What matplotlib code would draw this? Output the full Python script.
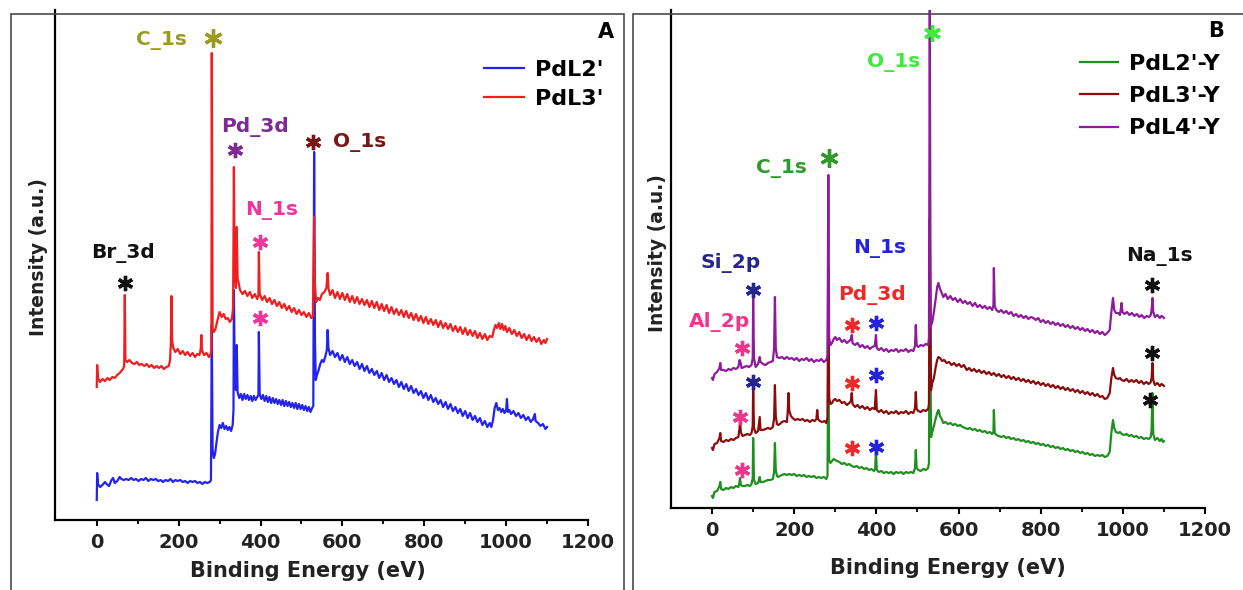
import matplotlib
matplotlib.use("Agg")
import matplotlib.pyplot as plt
from matplotlib.patches import Rectangle

# ---------------------------------------------------------------- data
# XPS survey spectra: (binding energy [eV], intensity [a.u.]) pairs

pdl2 = [(0,20),(1,47),(3,36),(8,33),(14,35),(20,38),(24,36),(30,34),(36,40),(40,42),(44,37),(50,39),
        (56,43),(60,41),(66,40),(72,41),(78,40),(84,42),(90,40),(96,41),(102,39),(108,41),(114,40),
        (120,42),(126,39),(132,41),(138,40),(144,41),(150,39),(156,40),(162,38),(168,40),(174,39),
        (180,41),(186,38),(192,40),(198,39),(204,40),(210,38),(216,39),(222,37),(228,39),(234,38),
        (240,39),(246,37),(252,38),(258,36),(264,38),(270,37),(276,38),(279,40),(281,195),(283,70),
        (286,62),(289,66),(292,76),(296,88),(300,95),(304,92),(308,97),(312,91),(316,94),(320,90),
        (324,93),(328,89),(332,95),(334,110),(335,230),(337,150),(340,130),(342,175),(344,128),
        (348,122),(352,126),(356,120),(360,126),(364,121),(368,125),(372,120),(376,124),(380,119),
        (384,124),(388,120),(392,123),(395,125),(396,188),(398,126),(402,121),(406,125),(410,119),
        (414,124),(418,118),(422,123),(426,117),(430,122),(434,117),(438,121),(442,116),(446,120),
        (450,115),(454,120),(458,114),(462,119),(466,114),(470,118),(474,113),(478,117),(482,112),
        (486,117),(490,111),(494,116),(498,111),(502,115),(506,110),(510,114),(514,109),(518,113),
        (522,108),(526,112),(529,114),(531,368),(533,180),(535,140),(538,145),(542,150),(546,156),
        (550,160),(554,158),(558,163),(562,170),(564,190),(566,172),(570,165),(576,169),(582,163),
        (588,167),(594,160),(600,165),(606,158),(612,163),(618,156),(624,160),(630,154),(636,158),
        (642,151),(648,156),(654,149),(660,154),(666,147),(672,151),(678,145),(684,149),(690,142),
        (696,147),(702,140),(708,145),(714,138),(720,142),(726,136),(732,140),(738,133),(744,138),
        (750,131),(756,136),(762,129),(768,134),(774,127),(780,131),(786,125),(792,129),(798,122),
        (804,127),(810,120),(816,125),(822,118),(828,122),(834,116),(840,120),(846,113),(852,118),
        (858,111),(864,116),(870,109),(876,113),(882,107),(888,111),(894,104),(900,109),(906,102),
        (912,107),(918,100),(924,104),(930,98),(936,102),(942,95),(948,99),(954,93),(960,97),
        (964,93),(968,100),(972,112),(976,117),(980,110),(984,112),(988,108),(992,111),(996,107),
        (1000,110),(1002,121),(1004,108),(1008,110),(1012,106),(1018,109),(1024,104),(1030,107),
        (1036,102),(1042,105),(1048,100),(1054,103),(1060,98),(1066,101),(1070,106),(1072,99),
        (1078,97),(1084,94),(1090,96),(1096,91),(1100,93)]

pdl3 = [(0,133),(1,155),(3,142),(8,138),(14,141),(20,139),(26,142),(32,140),(38,143),(44,142),
        (50,145),(56,147),(60,149),(64,151),(67,154),(68.5,225),(70,160),(74,158),(80,160),(86,157),
        (92,156),(98,158),(104,155),(110,156),(116,154),(122,156),(128,153),(134,155),(140,152),
        (146,154),(152,152),(158,154),(164,151),(170,153),(176,154),(179,160),(181,176),(182.5,224),
        (184,180),(187,172),(192,168),(198,171),(204,166),(210,169),(216,165),(222,168),(228,164),
        (234,167),(240,163),(246,166),(251,165),(254,171),(255.5,185),(257,170),(262,165),(268,167),
        (274,163),(278,166),(280,170),(281,467),(283,192),(286,188),(290,191),(295,200),(300,208),
        (305,203),(310,206),(315,201),(320,202),(325,198),(330,201),(333,212),(335,353),(337,250),
        (340,232),(342,293),(344,242),(350,230),(356,226),(362,229),(368,224),(374,228),(380,222),
        (386,226),(392,221),(395,225),(396,268),(398,226),(404,220),(410,224),(416,218),(422,222),
        (428,216),(434,220),(440,214),(446,218),(452,212),(458,216),(464,210),(470,214),(476,208),
        (482,212),(488,206),(494,210),(500,205),(506,208),(512,203),(518,207),(524,202),(528,204),
        (531,303),(533,235),(536,218),(540,222),(545,220),(550,226),(556,228),(561,232),(564,247),
        (566,232),(570,225),(576,230),(582,222),(588,228),(594,221),(600,227),(606,220),(612,226),
        (618,218),(624,224),(630,217),(636,223),(642,216),(648,221),(654,215),(660,220),(666,213),
        (672,219),(678,212),(684,218),(690,210),(696,216),(702,209),(708,215),(714,207),(720,213),
        (726,206),(732,211),(738,205),(744,210),(750,203),(756,209),(762,202),(768,207),(774,200),
        (780,206),(786,199),(792,204),(798,197),(804,203),(810,196),(816,201),(822,195),(828,200),
        (834,193),(840,199),(846,192),(852,197),(858,191),(864,196),(870,189),(876,194),(882,188),
        (888,193),(894,186),(900,192),(906,185),(912,190),(918,184),(924,189),(930,182),(936,187),
        (942,181),(948,186),(954,180),(960,184),(966,183),(970,190),(974,195),(978,192),(982,197),
        (986,191),(990,196),(994,190),(998,194),(1002,188),(1008,192),(1014,186),(1020,190),
        (1026,184),(1032,188),(1038,182),(1044,186),(1050,180),(1056,185),(1062,179),(1068,183),
        (1074,178),(1080,182),(1086,176),(1092,180),(1096,177),(1100,181)]

pdl2_y = [(0,12),(2,10),(6,16),(12,17),(18,22),(20,26),(22,19),(28,18),(34,20),(40,19),(46,21),
          (52,20),(58,22),(64,21),(67,26),(68,30),(70,23),(74,22),(80,22),(86,23),(92,22),(96,24),
          (99,30),(100,70),(102,28),(106,24),(112,25),(116,31),(118,26),(124,26),(130,27),(136,28),
          (142,28),(148,29),(151,36),(153,65),(155,38),(158,32),(161,31),(165,32),(170,33),(176,34),
          (182,33),(188,34),(194,33),(200,34),(206,32),(212,33),(218,32),(224,33),(230,31),(236,32),
          (242,31),(248,32),(254,30),(260,31),(266,30),(272,31),(278,29),(281,32),(283,160),(285,48),
          (288,45),(292,47),(296,49),(300,48),(304,47),(310,46),(316,44),(322,45),(328,43),(334,44),
          (340,42),(346,41),(352,42),(358,40),(364,41),(370,39),(376,40),(382,38),(388,39),(394,37),
          (397,39),(399,58),(401,38),(406,36),(412,37),(418,35),(424,36),(430,35),(436,36),(442,34),
          (448,36),(454,35),(460,36),(466,34),(472,36),(478,35),(484,36),(490,35),(494,40),(496,58),
          (498,40),(502,38),(508,37),(514,39),(520,38),(526,40),(528,45),(530,250),(533,71),(536,76),
          (540,82),(544,89),(548,95),(551,98),(555,92),(560,88),(563,85),(568,86),(574,84),(580,85),
          (586,83),(592,84),(598,82),(604,83),(610,81),(616,80),(622,79),(628,80),(634,78),(640,79),
          (646,77),(652,78),(658,76),(664,77),(670,75),(676,76),(682,74),(685,76),(686,98),(688,75),
          (692,73),(698,72),(704,71),(710,72),(716,70),(722,71),(728,69),(734,70),(740,68),(746,69),
          (752,67),(758,68),(764,66),(770,67),(776,65),(782,66),(788,64),(794,65),(800,63),(806,64),
          (812,62),(818,63),(824,61),(830,62),(836,60),(842,61),(848,59),(854,60),(860,58),(866,59),
          (872,57),(878,58),(884,56),(890,57),(896,55),(902,56),(908,54),(914,55),(920,53),(926,54),
          (932,52),(938,53),(944,52),(950,53),(956,51),(962,52),(968,56),(972,75),(976,88),(979,80),
          (983,76),(989,75),(993,76),(997,74),(1003,73),(1009,74),(1015,72),(1021,73),(1027,71),
          (1033,72),(1039,70),(1045,71),(1051,69),(1057,70),(1063,69),(1068,71),(1070,78),(1072,115),
          (1074,74),(1078,68),(1084,70),(1090,67),(1094,69),(1098,66),(1100,67)]

pdl3_y = [(0,60),(2,58),(6,64),(12,65),(18,70),(20,75),(22,67),(28,66),(34,68),(40,67),(46,69),
          (52,68),(58,70),(64,71),(67,80),(68,88),(70,76),(74,72),(80,73),(86,74),(92,73),(96,75),
          (99,82),(100,121),(102,80),(106,75),(112,77),(116,91),(118,78),(124,78),(130,79),(136,80),
          (142,79),(148,81),(151,90),(153,123),(155,92),(158,84),(161,83),(165,84),(170,86),(176,87),
          (182,86),(184,95),(186,115),(188,97),(192,92),(196,90),(202,88),(208,89),(214,88),(220,89),
          (226,87),(232,88),(238,86),(244,88),(250,87),(254,89),(256,98),(258,89),(262,87),(268,86),
          (274,87),(278,85),(281,90),(283,240),(285,110),(288,104),(292,105),(296,108),(300,109),
          (304,107),(310,108),(316,105),(322,106),(328,103),(334,105),(338,107),(340,115),(342,104),
          (348,101),(354,103),(360,100),(366,102),(372,99),(378,101),(384,98),(390,100),(396,99),
          (399,118),(401,98),(406,96),(412,98),(418,95),(424,97),(430,94),(436,96),(442,95),(448,97),
          (454,94),(460,96),(466,95),(472,97),(478,94),(484,96),(490,95),(494,100),(496,116),(498,99),
          (502,97),(508,96),(514,98),(520,97),(526,99),(528,104),(530,290),(533,118),(536,125),
          (540,130),(544,140),(548,148),(551,151),(555,150),(560,147),(565,148),(571,145),(577,146),
          (583,143),(589,145),(595,142),(601,144),(607,141),(613,143),(620,138),(626,140),(632,137),
          (638,139),(644,136),(650,138),(656,135),(662,137),(668,134),(674,136),(680,133),(686,135),
          (692,132),(698,134),(704,131),(710,133),(716,130),(722,132),(728,129),(734,131),(740,128),
          (746,130),(752,127),(758,129),(764,126),(770,128),(776,125),(782,127),(788,124),(794,126),
          (800,123),(806,125),(812,122),(818,124),(824,121),(830,123),(836,120),(842,122),(848,119),
          (854,121),(860,118),(866,120),(872,117),(878,119),(884,116),(890,118),(896,115),(902,117),
          (908,114),(914,116),(920,113),(926,115),(932,112),(938,114),(944,111),(950,112),(956,109),
          (962,110),(968,115),(972,130),(976,140),(979,133),(983,130),(989,129),(993,130),(997,128),
          (1003,127),(1009,129),(1015,126),(1021,128),(1027,126),(1033,128),(1039,125),(1045,127),
          (1051,124),(1057,126),(1063,124),(1068,126),(1070,130),(1072,145),(1074,128),(1078,123),
          (1084,125),(1090,122),(1094,124),(1098,123),(1100,122)]

pdl4_y = [(0,130),(2,128),(6,134),(12,136),(18,140),(20,145),(22,138),(28,138),(34,137),(40,139),
          (46,138),(52,140),(58,139),(64,141),(67,148),(69,146),(72,140),(78,141),(84,142),(90,141),
          (96,143),(99,150),(100,210),(102,150),(106,141),(112,144),(116,151),(118,146),(124,144),
          (130,143),(136,145),(142,146),(148,147),(151,160),(153,211),(155,160),(158,151),(164,150),
          (170,151),(176,149),(182,151),(188,149),(194,150),(200,148),(206,150),(212,147),(218,149),
          (224,148),(230,150),(236,147),(242,149),(248,146),(254,148),(260,147),(266,149),(272,146),
          (278,148),(281,152),(283,333),(285,170),(288,163),(292,165),(296,169),(300,171),(304,168),
          (310,170),(316,166),(322,168),(328,165),(334,167),(338,169),(340,173),(342,165),(348,163),
          (354,165),(360,161),(366,163),(372,160),(378,162),(384,159),(390,161),(396,162),(399,173),
          (401,160),(406,158),(412,160),(418,157),(424,159),(430,156),(436,158),(442,157),(448,159),
          (454,156),(460,158),(466,157),(472,159),(478,156),(484,158),(490,157),(494,162),(496,183),
          (498,163),(502,161),(508,163),(514,162),(520,164),(526,163),(528,170),(530,505),(532,181),
          (536,186),(540,196),(544,208),(548,221),(551,225),(555,219),(560,214),(563,211),(568,214),
          (574,209),(580,212),(586,208),(592,210),(598,206),(604,209),(610,205),(616,207),(622,204),
          (628,206),(634,202),(640,205),(646,201),(652,203),(658,200),(664,202),(670,199),(676,201),
          (682,198),(685,203),(686,240),(688,202),(692,198),(698,196),(704,198),(710,195),(716,197),
          (722,194),(728,196),(734,192),(740,194),(746,191),(752,193),(758,190),(764,192),(770,189),
          (776,191),(782,190),(788,188),(794,190),(800,186),(806,188),(812,185),(818,187),(824,184),
          (830,186),(836,183),(842,185),(848,182),(854,184),(860,181),(866,183),(872,180),(878,182),
          (884,179),(890,181),(896,178),(902,180),(908,177),(914,179),(920,176),(926,178),(932,175),
          (938,177),(944,174),(950,176),(956,173),(962,175),(968,178),(972,196),(976,210),(979,198),
          (983,195),(989,195),(993,193),(997,205),(999,196),(1004,194),(1010,196),(1016,193),
          (1022,195),(1028,192),(1034,194),(1040,191),(1046,193),(1052,190),(1058,192),(1064,191),
          (1068,193),(1070,198),(1072,210),(1074,196),(1078,191),(1084,193),(1090,190),(1094,192),
          (1098,191),(1100,190)]

series_A = ["PdL2'", "PdL3'"]
series_B = ["PdL2'-Y", "PdL3'-Y", "PdL4'-Y"]

tick_values = [0, 200, 400, 600, 800, 1000, 1200]
tick_labels = ["0", "200", "400", "600", "800", "1000", "1200"]

# peak labels and asterisk markers, panel A
labels_A = ["C_1s", "Pd_3d", "O_1s", "N_1s", "Br_3d"]
label_x_A = [159, 386, 643, 427, 64]
label_y_A = [480, 393, 378, 310, 267]
label_c_A = ["#9b9b1f", "#7e2a96", "#7a1616", "#f0359a", "#111111"]
star_x_A = [284, 337, 529, 399, 399, 70]
star_y_A = [482, 370, 378, 278, 202, 237]
star_c_A = ["#9b9b1f", "#7e2a96", "#7a1616", "#f0359a", "#f0359a", "#111111"]
star_s_A = [13, 11, 11, 11, 11, 11]

# peak labels and asterisk markers, panel B
labels_B = ["O_1s", "C_1s", "N_1s", "Pd_3d", "Si_2p", "Al_2p", "Na_1s"]
label_x_B = [443, 170, 409, 390, 46, 17, 1090]
label_y_B = [445, 340, 260, 213, 245, 186, 251]
label_c_B = ["#3cec3c", "#2e9a2e", "#2323dd", "#f02828", "#25258f", "#f0358f", "#111111"]
star_x_B = [536, 285, 100, 100, 72, 68, 72, 340, 340, 340, 399, 399, 399, 1072, 1072, 1067]
star_y_B = [475, 350, 218, 126, 160, 91, 38, 183, 125, 60, 185, 133, 61, 223, 155, 108]
star_c_B = ["#3cec3c", "#2e9a2e", "#25258f", "#25258f", "#f0358f", "#f0358f", "#f0358f",
            "#f02828", "#f02828", "#f02828", "#2323dd", "#2323dd", "#2323dd",
            "#111111", "#111111", "#111111"]
star_s_B = [12, 13] + [11] * 14

# ---------------------------------------------------------------- layout
W, H = 1243, 590
fig = plt.figure(figsize=(W / 100, H / 100), dpi=100)


def box(left, top, right, bottom):
    return [left / W, 1 - bottom / H, (right - left) / W, (bottom - top) / H]


axA = fig.add_axes(box(55, 10, 588, 520))
axB = fig.add_axes(box(671, 10, 1205, 508))

# panel frames
fig.add_artist(Rectangle((11 / W, -0.05), (624 - 11) / W, 1.05 - 14 / H,
                         transform=fig.transFigure, fill=False, ec="#4a4a4a", lw=1.2))
fig.add_artist(Rectangle((633 / W, -0.05), 0.6, 1.05 - 14 / H,
                         transform=fig.transFigure, fill=False, ec="#4a4a4a", lw=1.2))


def draw(ax, pts, color, label, lw):
    e, i = zip(*pts)
    return ax.plot(e, i, color=color, lw=lw, label=label)[0]


hA = [draw(axA, pdl2, "#2323f0", series_A[0], 1.6),
      draw(axA, pdl3, "#f01e1e", series_A[1], 1.6)]
hB = [draw(axB, pdl2_y, "#1f8f1f", series_B[0], 1.6),
      draw(axB, pdl3_y, "#8b0c0c", series_B[1], 1.6),
      draw(axB, pdl4_y, "#8e1b9b", series_B[2], 1.6)]

axA.set_xlim(-102, 1200)
axA.set_ylim(0, 510)
axB.set_xlim(-100, 1200)
axB.set_ylim(0, 498)

for ax in (axA, axB):
    for s in ("top", "right"):
        ax.spines[s].set_visible(False)
    for s in ("left", "bottom"):
        ax.spines[s].set_linewidth(1.6)
    ax.set_yticks([])
    ax.set_xticks(tick_values)
    ax.set_xticklabels(tick_labels, fontsize=14, fontweight="bold", color="#222222")
    ax.set_xticks([100, 300, 500, 700, 900, 1100], minor=True)
    ax.tick_params(axis="x", which="major", direction="out", length=4, width=1.5, pad=5.5)
    ax.tick_params(axis="x", which="minor", direction="out", length=3, width=1.3)
    ax.set_xlabel("Binding Energy (eV)", fontsize=15, fontweight="bold", color="#222222")
    ax.set_ylabel("Intensity (a.u.)", fontsize=13.5, fontweight="bold", color="#222222")

axA.xaxis.set_label_coords(0.475, -0.080)
axB.xaxis.set_label_coords(0.519, -0.100)
axA.yaxis.set_label_coords(-0.014, 0.516)
axB.yaxis.set_label_coords(-0.008, 0.512)

# peak annotations
for ax, labs, lx, ly, lc in ((axA, labels_A, label_x_A, label_y_A, label_c_A),
                             (axB, labels_B, label_x_B, label_y_B, label_c_B)):
    for t, x, y, c in zip(labs, lx, ly, lc):
        ax.text(x, y, t, color=c, fontsize=14.5, fontweight="bold",
                ha="center", va="center")

for ax, sx, sy, sc, ss in ((axA, star_x_A, star_y_A, star_c_A, star_s_A),
                           (axB, star_x_B, star_y_B, star_c_B, star_s_B)):
    for x, y, c, s in zip(sx, sy, sc, ss):
        ax.plot([x], [y], linestyle="none", marker=(6, 2, 0), ms=s, mew=2.4,
                color=c, clip_on=False)

# legends
axA.legend(handles=hA, loc="upper left", bbox_to_anchor=(484 / W, 1 - 60 / H),
           bbox_transform=fig.transFigure, frameon=False,
           prop={"weight": "bold", "size": 16}, handlelength=1.8,
           handletextpad=0.5, labelspacing=0.4, borderpad=0, borderaxespad=0)
axB.legend(handles=hB, loc="upper left", bbox_to_anchor=(1080 / W, 1 - 54 / H),
           bbox_transform=fig.transFigure, frameon=False,
           prop={"weight": "bold", "size": 16}, handlelength=1.7,
           handletextpad=0.5, labelspacing=0.55, borderpad=0, borderaxespad=0)

fig.text(606 / W, 1 - 32 / H, "A", ha="center", va="center", fontsize=15, fontweight="bold")
fig.text(1216 / W, 1 - 31 / H, "B", ha="center", va="center", fontsize=15, fontweight="bold")

fig.savefig("out.png", dpi=100)
